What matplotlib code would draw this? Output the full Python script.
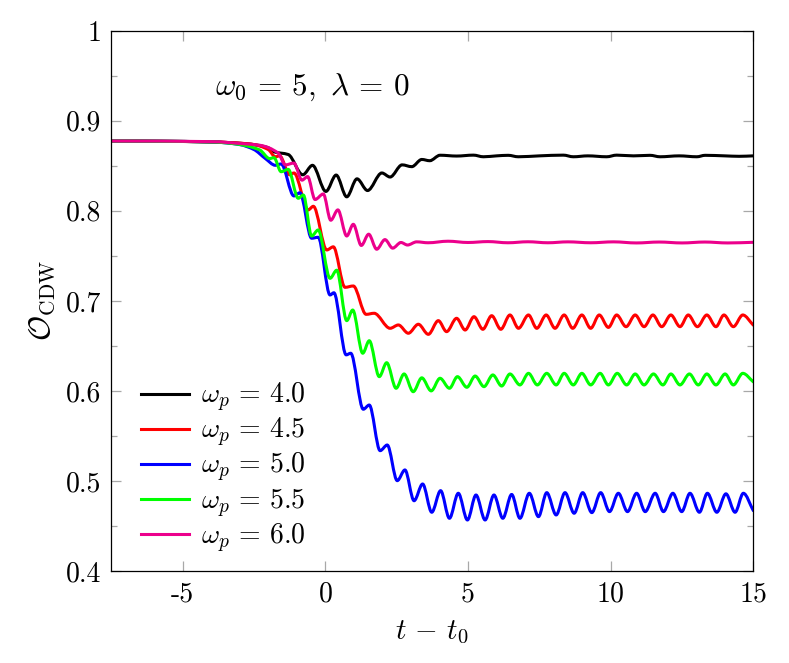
import numpy as np
import matplotlib
matplotlib.use("Agg")
import matplotlib.pyplot as plt
from matplotlib.path import Path
from matplotlib.patches import PathPatch
from matplotlib.lines import Line2D
from matplotlib.ticker import FixedLocator, FixedFormatter, MultipleLocator

plt.rcParams['font.family'] = ['cmr10', 'DejaVu Serif']
plt.rcParams['mathtext.fontset'] = 'cm'
plt.rcParams['axes.unicode_minus'] = False

# ---------------- data (local extrema of each curve) ----------------
labels = [r'$\omega_p\,=\,4.0$', r'$\omega_p\,=\,4.5$', r'$\omega_p\,=\,5.0$',
          r'$\omega_p\,=\,5.5$', r'$\omega_p\,=\,6.0$']
colors = ['#000000', '#ff0000', '#0000ff', '#00ff00', '#ec008c']

x_ticks = [-5, 0, 5, 10, 15]
x_ticklabels = ['-5', '0', '5', '10', '15']
y_ticks = [0.4, 0.5, 0.6, 0.7, 0.8, 0.9, 1.0]
y_ticklabels = ['0.4', '0.5', '0.6', '0.7', '0.8', '0.9', '1']

t_w40 = [-7.5, -4.0, -2.8, -2.0, -1.8, -1.3, -0.79, -0.45, 0.02, 0.38, 0.75, 1.11, 1.48,
         1.98, 2.27, 2.69, 3.03, 3.38, 3.66, 4.02, 4.6, 5.19, 5.54, 6.0, 6.41, 6.76, 7.5,
         8.34, 8.69, 9.2, 9.86, 10.21, 10.8, 11.38, 11.73, 12.4, 13.02, 13.31, 14.0, 14.5, 15.0]
v_w40 = [0.8775, 0.8765, 0.8745, 0.870, 0.8655, 0.8625, 0.840, 0.8505, 0.8215, 0.8397, 0.8155,
         0.8355, 0.8225, 0.842, 0.8375, 0.851, 0.849, 0.857, 0.8556, 0.8617, 0.8608, 0.8618,
         0.8600, 0.8610, 0.8616, 0.8600, 0.8610, 0.8618, 0.8600, 0.8610, 0.8600, 0.8618, 0.8610,
         0.8616, 0.8600, 0.8610, 0.8600, 0.8616, 0.8610, 0.8605, 0.8610]

t_w45 = [-7.5, -4.0, -2.6, -2.0, -1.75, -1.6, -1.25, -1.1, -0.6, -0.42, 0.05, 0.28, 0.69, 0.98,
         1.43, 1.71, 2.27, 2.56, 2.91, 3.26, 3.61, 3.96, 4.25, 4.60, 4.90, 5.21, 5.52, 5.83,
         6.15, 6.47, 6.77, 7.12, 7.41, 7.74, 8.05, 8.37, 8.67, 8.99, 9.30, 9.60, 9.92, 10.21,
         10.54, 10.86, 11.17, 11.48, 11.79, 12.11, 12.43, 12.72, 13.04, 13.37, 13.69, 13.97,
         14.30, 14.63, 15.0]
v_w45 = [0.8775, 0.8765, 0.874, 0.868, 0.860, 0.861, 0.840, 0.842, 0.801, 0.805, 0.7565, 0.760,
         0.715, 0.7165, 0.685, 0.6862, 0.6695, 0.6732, 0.664, 0.674, 0.6628, 0.678, 0.6658,
         0.6806, 0.6676, 0.6824, 0.6684, 0.6835, 0.6684, 0.6843, 0.6695, 0.6843, 0.6695, 0.6843,
         0.6695, 0.6843, 0.6695, 0.6843, 0.6695, 0.6843, 0.6705, 0.6843, 0.6713, 0.6843, 0.6713,
         0.6843, 0.6713, 0.6843, 0.6713, 0.6843, 0.6713, 0.6843, 0.6713, 0.6843, 0.6713, 0.6843,
         0.673]

t_w50 = [-7.5, -4.0, -3.0, -2.5, -2.1, -1.75, -1.55, -1.1, -0.89, -0.48, -0.25, 0.165, 0.30,
         0.73, 0.89, 1.33, 1.54, 1.92, 2.17, 2.52, 2.79, 3.11, 3.41, 3.73, 4.04, 4.35, 4.66,
         4.98, 5.28, 5.60, 5.91, 6.22, 6.53, 6.82, 7.15, 7.47, 7.76, 8.09, 8.40, 8.72, 9.02,
         9.34, 9.65, 9.96, 10.27, 10.59, 10.91, 11.21, 11.56, 11.85, 12.18, 12.49, 12.78, 13.11,
         13.39, 13.72, 14.04, 14.36, 14.65, 15.0]
v_w50 = [0.8775, 0.8765, 0.8735, 0.868, 0.858, 0.8505, 0.852, 0.8165, 0.820, 0.7695, 0.7706,
         0.7065, 0.709, 0.640, 0.6418, 0.5796, 0.5843, 0.5336, 0.5399, 0.5003, 0.5122, 0.478,
         0.4966, 0.4652, 0.4892, 0.4585, 0.4863, 0.4566, 0.4844, 0.4566, 0.4844, 0.4585, 0.4850,
         0.4585, 0.4863, 0.4603, 0.4870, 0.4622, 0.4870, 0.4641, 0.4870, 0.4648, 0.4870, 0.4659,
         0.4863, 0.4659, 0.4863, 0.4659, 0.4863, 0.4659, 0.4863, 0.4659, 0.4863, 0.4652, 0.4863,
         0.4652, 0.4857, 0.4652, 0.4863, 0.467]

t_w55 = [-7.5, -4.0, -3.2, -2.3, -1.95, -1.8, -1.55, -1.30, -0.95, -0.77, -0.48, -0.25, 0.165,
         0.40, 0.75, 0.96, 1.31, 1.54, 1.89, 2.15, 2.48, 2.76, 3.08, 3.38, 3.71, 4.02, 4.35,
         4.63, 4.96, 5.25, 5.56, 5.87, 6.18, 6.47, 6.82, 7.12, 7.43, 7.76, 8.09, 8.37, 8.69,
         8.99, 9.30, 9.63, 9.92, 10.23, 10.56, 10.86, 11.17, 11.50, 11.83, 12.11, 12.43, 12.76,
         13.07, 13.37, 13.69, 14.01, 14.30, 14.63, 15.0]
v_w55 = [0.8775, 0.8765, 0.8745, 0.8676, 0.858, 0.859, 0.8434, 0.846, 0.8139, 0.8175, 0.772,
         0.7787, 0.725, 0.734, 0.678, 0.6898, 0.6418, 0.6557, 0.6158, 0.6313, 0.6029, 0.6188,
         0.5991, 0.6145, 0.600, 0.614, 0.6029, 0.6158, 0.604, 0.6165, 0.6047, 0.6177, 0.6054,
         0.6188, 0.6066, 0.6195, 0.6066, 0.6195, 0.6066, 0.6195, 0.6066, 0.6195, 0.6066, 0.6195,
         0.6066, 0.6195, 0.6066, 0.6188, 0.6066, 0.6188, 0.6066, 0.6188, 0.6066, 0.6188, 0.6066,
         0.6188, 0.6066, 0.6188, 0.6066, 0.6195, 0.610]

t_w60 = [-7.5, -4.0, -2.9, -2.3, -1.65, -1.40, -1.10, -0.82, -0.62, -0.36, -0.07, 0.19, 0.44,
         0.75, 0.98, 1.26, 1.52, 1.80, 2.09, 2.36, 2.65, 2.88, 3.2, 3.6, 4.3, 5.0, 5.7, 6.4,
         7.1, 7.8, 8.5, 9.3, 10.1, 10.9, 11.7, 12.5, 13.3, 14.1, 15.0]
v_w60 = [0.8775, 0.8768, 0.8745, 0.8728, 0.864, 0.851, 0.853, 0.834, 0.838, 0.8125, 0.8187,
         0.7895, 0.801, 0.772, 0.785, 0.7615, 0.774, 0.7573, 0.768, 0.7585, 0.7648, 0.762,
         0.7655, 0.7645, 0.7662, 0.7648, 0.7658, 0.7645, 0.7656, 0.7645, 0.7655, 0.7645, 0.7655,
         0.7643, 0.7653, 0.7643, 0.7653, 0.7643, 0.765]

series_t = [t_w40, t_w45, t_w50, t_w55, t_w60]
series_v = [v_w40, v_w45, v_w50, v_w55, v_w60]


def smooth_path(t, v):
    """Bezier path through the read points (monotone cubic tangents)."""
    t = np.asarray(t, float)
    v = np.asarray(v, float)
    n = len(t)
    h = np.diff(t)
    d = np.diff(v) / h
    m = np.zeros(n)
    for k in range(1, n - 1):
        if d[k - 1] * d[k] > 0:
            w1 = 2 * h[k] + h[k - 1]
            w2 = h[k] + 2 * h[k - 1]
            m[k] = (w1 + w2) / (w1 / d[k - 1] + w2 / d[k])
    m[-1] = d[-1]
    verts = [(t[0], v[0])]
    codes = [Path.MOVETO]
    for k in range(n - 1):
        verts += [(t[k] + h[k] / 3, v[k] + m[k] * h[k] / 3),
                  (t[k + 1] - h[k] / 3, v[k + 1] - m[k + 1] * h[k] / 3),
                  (t[k + 1], v[k + 1])]
        codes += [Path.CURVE4] * 3
    return Path(verts, codes)


fig = plt.figure(figsize=(7.89, 6.63), dpi=100)
ax = fig.add_axes([0.1411, 0.1388, 0.8137, 0.8149])

for tt, vv, c in zip(series_t, series_v, colors):
    ax.add_patch(PathPatch(smooth_path(tt, vv), facecolor='none', edgecolor=c,
                           lw=2.2, capstyle='round', joinstyle='round'))

ax.set_xlim(-7.5, 15)
ax.set_ylim(0.4, 1.0)

ax.xaxis.set_major_locator(FixedLocator(x_ticks))
ax.xaxis.set_major_formatter(FixedFormatter(x_ticklabels))
ax.yaxis.set_major_locator(FixedLocator(y_ticks))
ax.yaxis.set_major_formatter(FixedFormatter(y_ticklabels))
ax.yaxis.set_minor_locator(MultipleLocator(0.05))

ax.tick_params(which='both', direction='in', top=True, right=True, color='#a8a8a8',
               width=0.9, labelsize=20, pad=7)
ax.tick_params(which='major', length=7)
ax.tick_params(which='minor', length=4.2)
for s in ax.spines.values():
    s.set_linewidth(0.9)

ax.set_xlabel(r'$t\,-\,t_0$', fontsize=21)
ax.set_ylabel(r'$\mathcal{O}_{\mathrm{CDW}}$', fontsize=22)
ax.xaxis.set_label_coords(0.5, -0.088)
ax.yaxis.set_label_coords(-0.085, 0.5)

ax.text(0.3126, 0.896, r'$\omega_0\,=\,5,\ \lambda\,=\,0$', transform=ax.transAxes,
        ha='center', va='center', fontsize=22.5)

handles = [Line2D([], [], color=c, lw=2.2) for c in colors]
ax.legend(handles, labels, loc='lower left', bbox_to_anchor=(0.046, 0.03),
          frameon=False, fontsize=20, handlelength=1.75, handletextpad=0.4,
          labelspacing=0.07, borderpad=0, borderaxespad=0)

fig.savefig('out.png', dpi=100)
